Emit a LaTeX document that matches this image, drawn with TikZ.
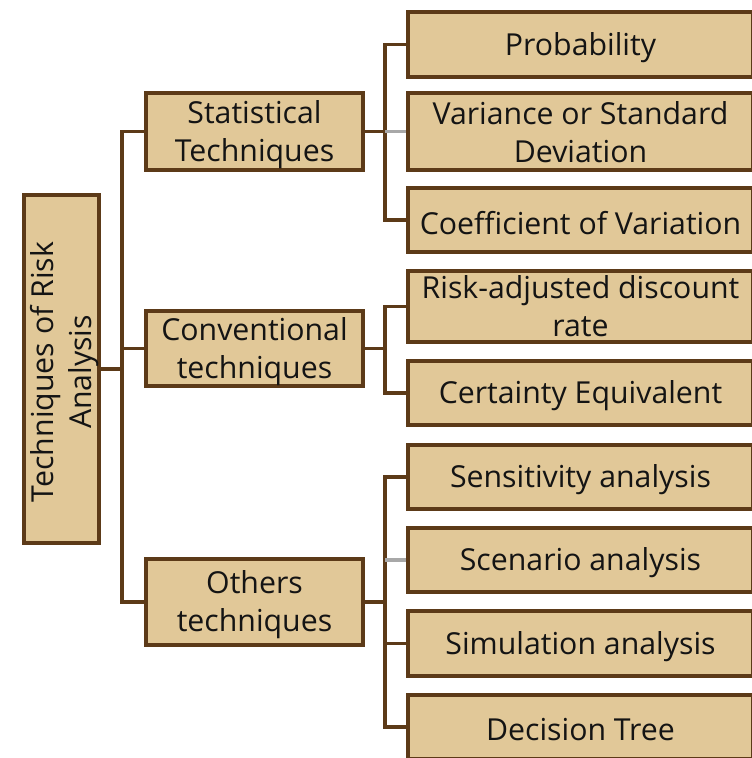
\documentclass[tikz,border=0pt]{standalone}
\usepackage{fontspec}
\setmainfont{Open Sans}
\definecolor{boxfill}{HTML}{E1C898}
\definecolor{boxline}{HTML}{5C3A18}
\definecolor{txt}{HTML}{141414}
\definecolor{stub}{HTML}{A8A8A8}
\begin{document}
\begin{tikzpicture}[x=0.75pt,y=-0.75pt,
  box/.style={draw=boxline, fill=boxfill, line width=3pt, rectangle, inner sep=0pt},
  tx/.style={align=center, text=txt, inner sep=0pt, font=\fontsize{22.7}{28.5}\selectfont, yshift=-2.2pt},
  conn/.style={draw=boxline, line width=2.5pt, line join=miter},
  graystub/.style={draw=stub, line width=2.5pt}]
\useasboundingbox (0,0) rectangle (752,758);
\clip (0,0) rectangle (752,758);
% root
\node[box, minimum width=56.25pt, minimum height=261pt,
  label={[tx, rotate=90, yshift=-2.6pt]center:Techniques of Risk\\Analysis}] (root) at (61.5,369) {};
% level 1
\tikzset{mid/.style={box, minimum width=162.75pt}}
\node[mid, minimum height=57.75pt, label={[tx]center:Statistical\\Techniques}] (stat) at (254.5,131.5) {};
\node[mid, minimum height=56.25pt, label={[tx]center:Conventional\\techniques}] (conv) at (254.5,348.5) {};
\node[mid, minimum height=64.5pt, label={[tx]center:Others\\techniques}] (oth) at (254.5,602) {};
% level 2
\tikzset{leaf/.style={box, minimum width=258.75pt}}
\node[leaf, minimum height=48.75pt, label={[tx]center:Probability}] (prob) at (580.5,44.5) {};
\node[leaf, minimum height=57.75pt, label={[tx, yshift=1.5pt]center:Variance or Standard\\Deviation}] (var) at (580.5,131.5) {};
\node[leaf, minimum height=48pt, label={[tx]center:Coefficient of Variation}] (coef) at (580.5,220) {};
\node[leaf, minimum height=53.25pt, label={[tx, yshift=2.2pt]center:Risk-adjusted discount\\rate}] (risk) at (580.5,306.5) {};
\node[leaf, minimum height=48pt, label={[tx]center:Certainty Equivalent}] (cert) at (580.5,393) {};
\node[leaf, minimum height=48pt, label={[tx]center:Sensitivity analysis}] (sens) at (580.5,477) {};
\node[leaf, minimum height=48pt, label={[tx]center:Scenario analysis}] (scen) at (580.5,560) {};
\node[leaf, minimum height=48.75pt, label={[tx]center:Simulation analysis}] (sim) at (580.5,643.5) {};
\node[leaf, minimum height=48pt, label={[tx]center:Decision Tree}] (dec) at (580.5,727) {};
% connectors
\coordinate (t) at (122,369);
\coordinate (b1) at (385,131.5);
\coordinate (b2) at (385,348.5);
\coordinate (b3) at (385,602);
\draw[conn] (root.east) -- (t);
\draw[conn] (stat.west) -| (t);
\draw[conn] (oth.west) -| (t);
\draw[conn] (conv.west) -- (conv.west -| t);
\draw[conn] (stat.east) -- (b1);
\draw[conn] (prob.west) -| (b1);
\draw[conn] (coef.west) -| (b1);
\draw[graystub] (var.west) -- (var.west -| b1);
\draw[conn] (conv.east) -- (b2);
\draw[conn] (risk.west) -| (b2);
\draw[conn] (cert.west) -| (b2);
\draw[conn] (oth.east) -- (b3);
\draw[conn] (sens.west) -| (b3);
\draw[conn] (dec.west) -| (b3);
\draw[conn] (sim.west) -- (sim.west -| b3);
\draw[graystub] (scen.west) -- (scen.west -| b3);
\end{tikzpicture}
\end{document}
